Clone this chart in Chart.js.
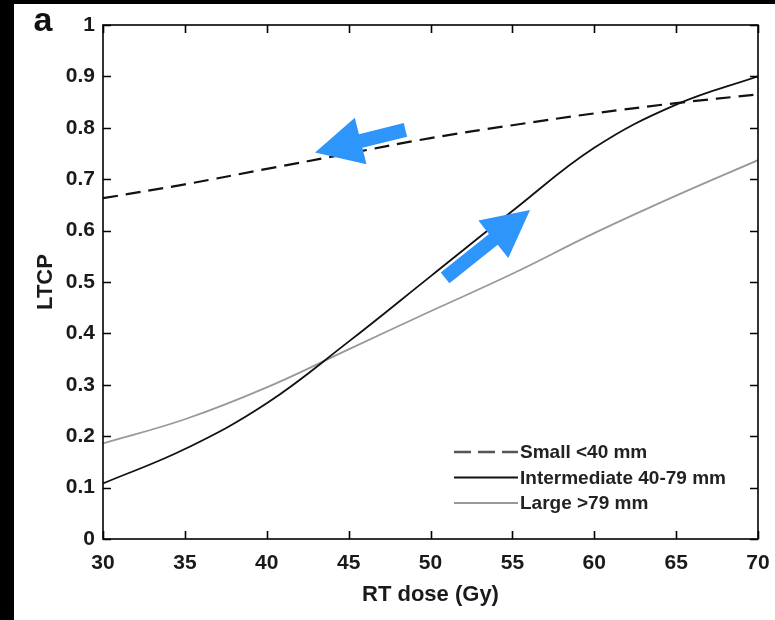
<!DOCTYPE html>
<html lang="en">
<head>
    <meta charset="UTF-8">
    <title>LTCP vs RT dose</title>
    <script src="https://cdn.jsdelivr.net/npm/chart.js@4.4.1/dist/chart.umd.min.js"></script>
    <style>
        html, body { margin: 0; padding: 0; background: #000; }
        body { width: 775px; height: 620px; position: relative; overflow: hidden; }
        .panel { position: absolute; left: 14px; top: 4px; width: 761px; height: 616px; background: #fff; }
        canvas { display: block; }
    </style>
</head>
<body>
    <div class="panel">
        <canvas id="ltcpChart" width="761" height="616"></canvas>
    </div>

    <script>
        // RT dose (Gy) sampled every 5 Gy
        const doses = [30, 35, 40, 45, 50, 55, 60, 65, 70];

        // LTCP by tumour size group
        const smallLtcp = [0.663, 0.690, 0.720, 0.750, 0.780, 0.805, 0.828, 0.848, 0.865];
        const intermediateLtcp = [0.108, 0.175, 0.264, 0.384, 0.511, 0.638, 0.761, 0.845, 0.900];
        const largeLtcp = [0.186, 0.233, 0.295, 0.369, 0.443, 0.516, 0.595, 0.668, 0.737];

        const seriesLabels = ['Small <40 mm', 'Intermediate 40-79 mm', 'Large >79 mm'];

        const xTicks = [30, 35, 40, 45, 50, 55, 60, 65, 70];
        const yTicks = [0, 0.1, 0.2, 0.3, 0.4, 0.5, 0.6, 0.7, 0.8, 0.9, 1];

        // blue arrows, [dose, LTCP] from tail to tip
        const arrowTails = [[48.47, 0.796], [50.89, 0.508]];
        const arrowTips = [[42.95, 0.752], [56.08, 0.640]];

        const FONT = "'Liberation Sans', Arial, sans-serif";

        const toPoints = values => doses.map((d, i) => ({ x: d, y: values[i] }));

        // box around the plot with inward ticks on every side
        const frame = {
            id: 'frame',
            afterDatasetsDraw(chart) {
                const { ctx, chartArea: a, scales: { x, y } } = chart;
                const len = 8;
                ctx.save();
                ctx.strokeStyle = '#000';
                ctx.lineWidth = 1.6;
                ctx.strokeRect(a.left, a.top, a.right - a.left, a.bottom - a.top);
                ctx.beginPath();
                xTicks.forEach(t => {
                    const px = Math.round(x.getPixelForValue(t)) + 0.5;
                    ctx.moveTo(px, a.bottom); ctx.lineTo(px, a.bottom - len);
                    ctx.moveTo(px, a.top); ctx.lineTo(px, a.top + len);
                });
                yTicks.forEach(t => {
                    const py = Math.round(y.getPixelForValue(t)) + 0.5;
                    ctx.moveTo(a.left, py); ctx.lineTo(a.left + len, py);
                    ctx.moveTo(a.right, py); ctx.lineTo(a.right - len, py);
                });
                ctx.stroke();
                ctx.restore();
            }
        };

        // block arrows plus the legend and panel letter
        const overlay = {
            id: 'overlay',
            afterDraw(chart) {
                const { ctx, scales: { x, y } } = chart;
                ctx.save();

                ctx.fillStyle = '#2e95fa';
                arrowTails.forEach((tail, i) => {
                    const x0 = x.getPixelForValue(tail[0]), y0 = y.getPixelForValue(tail[1]);
                    const x1 = x.getPixelForValue(arrowTips[i][0]), y1 = y.getPixelForValue(arrowTips[i][1]);
                    const ang = Math.atan2(y1 - y0, x1 - x0);
                    const L = Math.hypot(x1 - x0, y1 - y0);
                    const headL = 47, headW = 48, shaftW = 14;
                    ctx.save();
                    ctx.translate(x0, y0);
                    ctx.rotate(ang);
                    ctx.beginPath();
                    ctx.moveTo(0, -shaftW / 2);
                    ctx.lineTo(L - headL, -shaftW / 2);
                    ctx.lineTo(L - headL, -headW / 2);
                    ctx.lineTo(L, 0);
                    ctx.lineTo(L - headL, headW / 2);
                    ctx.lineTo(L - headL, shaftW / 2);
                    ctx.lineTo(0, shaftW / 2);
                    ctx.closePath();
                    ctx.fill();
                    ctx.restore();
                });

                // legend inside the lower right of the plot
                const lx = 440, ly = 448, gap = 25.5;
                ctx.font = 'bold 19px ' + FONT;
                ctx.textBaseline = 'middle';
                ctx.textAlign = 'left';
                chart.data.datasets.forEach((ds, i) => {
                    const yy = ly + i * gap;
                    ctx.beginPath();
                    ctx.strokeStyle = i === 0 ? '#555' : ds.borderColor;
                    ctx.lineWidth = i === 0 ? 2.4 : 1.8;
                    ctx.setLineDash(i === 0 ? [17, 7] : []);
                    ctx.moveTo(lx, yy);
                    ctx.lineTo(lx + 64, yy);
                    ctx.stroke();
                    ctx.setLineDash([]);
                    ctx.fillStyle = '#222';
                    ctx.fillText(ds.label, lx + 66, yy + 1);
                });

                ctx.font = 'bold 34px ' + FONT;
                ctx.fillStyle = '#111';
                ctx.textAlign = 'center';
                ctx.fillText('a', 29, 18);
                ctx.restore();
            }
        };

        const ctx = document.getElementById('ltcpChart').getContext('2d');
        new Chart(ctx, {
            type: 'line',
            data: {
                datasets: [
                    {
                        label: seriesLabels[0],
                        data: toPoints(smallLtcp),
                        borderColor: '#111',
                        borderWidth: 2.2,
                        borderDash: [15, 8]
                    },
                    {
                        label: seriesLabels[1],
                        data: toPoints(intermediateLtcp),
                        borderColor: '#111',
                        borderWidth: 1.8
                    },
                    {
                        label: seriesLabels[2],
                        data: toPoints(largeLtcp),
                        borderColor: '#999',
                        borderWidth: 1.8
                    }
                ]
            },
            options: {
                responsive: false,
                animation: false,
                devicePixelRatio: 1,
                layout: { padding: { top: 21, right: 17, left: 0, bottom: 0 } },
                elements: {
                    point: { radius: 0 },
                    line: { tension: 0.4 }
                },
                scales: {
                    x: {
                        type: 'linear',
                        min: 30,
                        max: 70,
                        afterBuildTicks: s => { s.ticks = xTicks.map(v => ({ value: v })); },
                        afterFit: s => { s.height = 81; s.paddingLeft = 0; s.paddingRight = 0; },
                        grid: { display: false, drawTicks: false },
                        border: { display: false },
                        ticks: {
                            padding: 12,
                            color: '#1a1a1a',
                            font: { family: FONT, size: 21, weight: 'bold' },
                            maxRotation: 0
                        },
                        title: {
                            display: true,
                            text: 'RT dose (Gy)',
                            color: '#1a1a1a',
                            font: { family: FONT, size: 22, weight: 'bold' },
                            padding: { top: 0, bottom: 12 }
                        }
                    },
                    y: {
                        min: 0,
                        max: 1,
                        afterBuildTicks: s => { s.ticks = yTicks.map(v => ({ value: v })); },
                        afterFit: s => { s.width = 89; s.paddingTop = 0; s.paddingBottom = 0; },
                        grid: { display: false, drawTicks: false },
                        border: { display: false },
                        ticks: {
                            padding: 8,
                            color: '#1a1a1a',
                            font: { family: FONT, size: 21, weight: 'bold' },
                            callback: v => String(Math.round(v * 10) / 10)
                        },
                        title: {
                            display: true,
                            text: 'LTCP',
                            color: '#1a1a1a',
                            font: { family: FONT, size: 22, weight: 'bold' },
                            padding: { top: 19, bottom: 0 }
                        }
                    }
                },
                plugins: {
                    legend: { display: false },
                    tooltip: { enabled: false }
                }
            },
            plugins: [frame, overlay]
        });
    </script>
</body>
</html>
